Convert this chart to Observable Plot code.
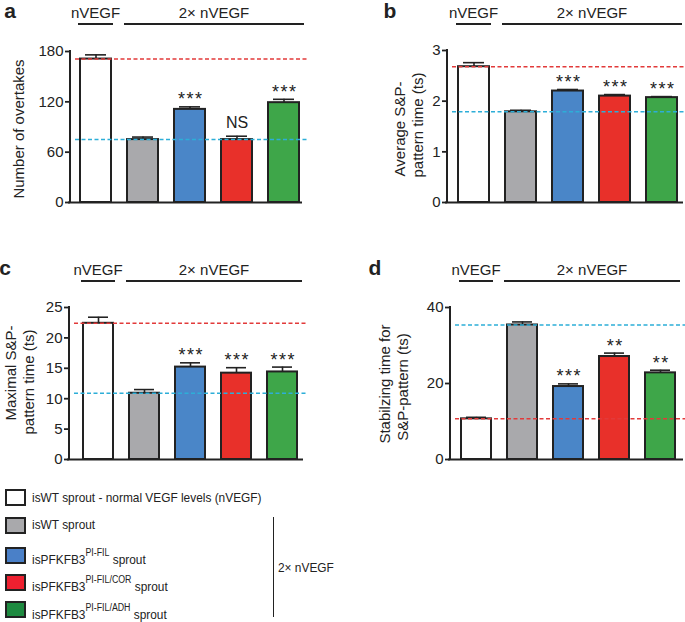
<!DOCTYPE html>
<html><head><meta charset="utf-8">
<script src="https://cdn.jsdelivr.net/npm/d3@7"></script>
<script src="https://cdn.jsdelivr.net/npm/@observablehq/plot@0.6"></script>
<style>
body{margin:0;background:#fff;font-family:"Liberation Sans",Arial,Helvetica,sans-serif;color:#222;}
#root{position:relative;width:685px;height:622px;overflow:hidden;}
.panel{position:absolute;}
.lrow{position:absolute;left:0;white-space:nowrap;}
.sw{position:absolute;left:5px;width:21px;height:17px;box-sizing:border-box;border:2.5px solid #222;}
.lt{position:absolute;left:32px;font-size:13.5px;transform:scaleX(0.88);transform-origin:0 0;line-height:1;}
.lt sup{font-size:10px;vertical-align:0;position:relative;top:-8px;}
</style></head>
<body><div id="root"></div>
<script>
// ---- data ----
const keys = ["nVEGF", "isWT", "PI-FIL", "PI-FIL/COR", "PI-FIL/ADH"];
const barColors = ["#ffffff", "#a9a9ac", "#4a86c8", "#e8302a", "#3ea649"];
const legendColors = ["#ffffff", "#a9a9ac", "#4a80c8", "#ee2030", "#1e8a40"];
const legendNames = ["isWT sprout - normal VEGF levels (nVEGF)", "isWT sprout", "isPFKFB3", "isPFKFB3", "isPFKFB3"];
const legendSup = ["", "", "PI-FIL", "PI-FIL/COR", "PI-FIL/ADH"];
const legendSuffix = ["", "", " sprout", " sprout", " sprout"];
const groupLabels = ["nVEGF", "2\u00d7 nVEGF"];

const overtakes = [171, 75, 111, 75, 119];
const overtakesErr = [5, 3, 3, 4, 4];
const overtakesSig = ["", "", "***", "NS", "***"];
const overtakesTicks = [0, 60, 120, 180];

const avgTime = [2.68, 1.79, 2.20, 2.10, 2.07];
const avgTimeErr = [0.08, 0.03, 0.03, 0.03, 0.02];
const avgTimeSig = ["", "", "***", "***", "***"];
const avgTimeTicks = [0, 1, 2, 3];

const maxTime = [22.4, 10.9, 15.2, 14.2, 14.4];
const maxTimeErr = [1.0, 0.6, 0.7, 0.9, 0.8];
const maxTimeSig = ["", "", "***", "***", "***"];
const maxTimeTicks = [0, 5, 10, 15, 20, 25];

const stabTime = [10.7, 35.4, 19.2, 27.1, 22.8];
const stabTimeErr = [0.4, 0.8, 0.7, 0.9, 0.7];
const stabTimeSig = ["", "", "***", "**", "**"];
const stabTimeTicks = [0, 20, 40];

// ---- layout ----
const FONT = '"Liberation Sans", Arial, Helvetica, sans-serif';
const root = document.getElementById("root");

const panels = [
  {letter:"a", letterX:10, left:0, top:0, width:340, ml:70, mr:38, mt:51, po:0.138, align:0.77,
   values:overtakes, errs:overtakesErr, sig:overtakesSig, ticks:overtakesTicks,
   red:overtakes[0], cyan:overtakes[1],
   labels:[{t:"Number of overtakes", x:24, c:129}]},
  {letter:"b", letterX:50, left:340, top:0, width:345, ml:107, mr:2, mt:50, po:0.18, align:0.65,
   values:avgTime, errs:avgTimeErr, sig:avgTimeSig, ticks:avgTimeTicks,
   red:avgTime[0], cyan:avgTime[1],
   labels:[{t:"Average S&P-", x:65, c:129},{t:"pattern time (ts)", x:83, c:125}]},
  {letter:"c", letterX:5, left:0, top:257, width:340, ml:69, mr:37, mt:50, po:0.16, align:0.73,
   values:maxTime, errs:maxTimeErr, sig:maxTimeSig, ticks:maxTimeTicks,
   red:maxTime[0], cyan:maxTime[1],
   labels:[{t:"Maximal S&P-", x:16, c:116},{t:"pattern time (ts)", x:34, c:125}]},
  {letter:"d", letterX:35, left:340, top:257, width:345, ml:110, mr:2, mt:50, po:0.149, align:0.57,
   values:stabTime, errs:stabTimeErr, sig:stabTimeSig, ticks:stabTimeTicks,
   red:stabTime[0], cyan:stabTime[1],
   labels:[{t:"Stabilzing time for", x:50, c:127},{t:"S&P-pattern (ts)", x:68, c:130}]}
];

panels.forEach(cfg => {
  const data = keys.map((k, i) => ({key:k, value:cfg.values[i], err:cfg.errs[i], sig:cfg.sig[i], color:barColors[i]}));
  const max = cfg.ticks[cfg.ticks.length - 1];
  const plot = Plot.plot({
    width: cfg.width, height: 215,
    marginTop: cfg.mt, marginBottom: 13, marginLeft: cfg.ml, marginRight: cfg.mr,
    style: {fontFamily: FONT, fontSize: "15px", color: "#222", background: "transparent", overflow: "visible"},
    x: {domain: keys, paddingInner: 0.34, paddingOuter: cfg.po, align: cfg.align, axis: null},
    y: {domain: [0, max], axis: null},
    color: {type: "identity"},
    marks: [
      Plot.axisY({ticks: cfg.ticks, tickSize: 5, tickPadding: 2, strokeWidth: 1.8, label: null, fontSize: 15, tickFormat: d => String(d)}),
      Plot.barY(data, {x: "key", y: "value", fill: "color", stroke: "#222", strokeWidth: 2}),
      Plot.ruleX(data, {x: "key", y1: "value", y2: d => d.value + d.err, stroke: "#222", strokeWidth: 1.6}),
      Plot.tickY(data, {x: "key", y: d => d.value + d.err, stroke: "#222", strokeWidth: 1.6, insetLeft: 5, insetRight: 5}),
      Plot.ruleY([cfg.red], {stroke: "#e23a3a", strokeWidth: 1.5, strokeDasharray: "4,2.5", insetLeft: 5, insetRight: -5}),
      Plot.ruleY([cfg.cyan], {stroke: "#2daed8", strokeWidth: 1.5, strokeDasharray: "4,2.5", insetLeft: 5, insetRight: -5}),
      Plot.ruleY([0], {stroke: "#222", strokeWidth: 2, insetLeft: -2}),
      Plot.text(data.filter(d => d.sig.startsWith("*")), {x: "key", y: d => d.value + d.err, text: d => d.sig.split("").join("\u200A"), lineAnchor: "bottom", dy: -1.5, fontSize: 18, fill: "#222"}),
      Plot.text(data.filter(d => d.sig === "NS"), {x: "key", y: d => d.value + d.err, text: "sig", lineAnchor: "bottom", dy: -8, fontSize: 16, fill: "#222"})
    ]
  });
  const svg = d3.select(plot);
  const xs = plot.scale("x"), ys = plot.scale("y");
  const bw = xs.bandwidth;
  // y axis line
  svg.append("line").attr("x1", cfg.ml).attr("x2", cfg.ml)
    .attr("y1", ys.apply(0) + 1).attr("y2", ys.apply(max) - 0.9)
    .attr("stroke", "#222").attr("stroke-width", 2);
  // group headers
  const g = svg.append("g").attr("font-family", FONT).attr("font-size", 15).attr("fill", "#222");
  const h1a = xs.apply(keys[0]) - 2, h1b = xs.apply(keys[0]) + bw + 2;
  const h2a = xs.apply(keys[1]) - 3, h2b = xs.apply(keys[4]) + bw + 5;
  g.append("line").attr("x1", h1a).attr("x2", h1b).attr("y1", 24).attr("y2", 24).attr("stroke", "#222").attr("stroke-width", 1.8);
  g.append("line").attr("x1", h2a).attr("x2", h2b).attr("y1", 24).attr("y2", 24).attr("stroke", "#222").attr("stroke-width", 1.8);
  g.append("text").attr("x", (h1a + h1b) / 2).attr("y", 17.5).attr("text-anchor", "middle").text(groupLabels[0]);
  g.append("text").attr("x", (h2a + h2b) / 2).attr("y", 17.5).attr("text-anchor", "middle").text(groupLabels[1]);
  // panel letter
  g.append("text").attr("x", cfg.letterX).attr("y", 18).attr("font-size", 21).attr("font-weight", "bold").text(cfg.letter);
  // y labels
  cfg.labels.forEach(l => {
    g.append("text").attr("transform", `translate(${l.x},${l.c}) rotate(-90)`)
      .attr("text-anchor", "middle").text(l.t);
  });
  const div = document.createElement("div");
  div.className = "panel";
  div.style.left = cfg.left + "px";
  div.style.top = cfg.top + "px";
  div.appendChild(plot);
  root.appendChild(div);
});

// ---- legend ----
const rowCenters = [497.5, 525, 555, 582, 609.5];
legendNames.forEach((name, i) => {
  const row = document.createElement("div");
  row.className = "lrow";
  row.style.top = rowCenters[i] + "px";
  const sw = document.createElement("div");
  sw.className = "sw";
  sw.style.top = "-8.5px";
  sw.style.background = legendColors[i];
  row.appendChild(sw);
  const t = document.createElement("div");
  t.className = "lt";
  t.style.top = (legendSup[i] ? "-2px" : "-7px");
  t.appendChild(document.createTextNode(name));
  if (legendSup[i]) {
    const s = document.createElement("sup");
    s.textContent = legendSup[i];
    t.appendChild(s);
  }
  t.appendChild(document.createTextNode(legendSuffix[i]));
  row.appendChild(t);
  root.appendChild(row);
});
const br = document.createElement("div");
br.style.cssText = "position:absolute;left:272.5px;top:517px;width:1.6px;height:100px;background:#222;";
root.appendChild(br);
const bt = document.createElement("div");
bt.style.cssText = "position:absolute;left:278px;top:561px;font-size:13.5px;line-height:1;transform:scaleX(0.88);transform-origin:0 0;white-space:nowrap;";
bt.textContent = groupLabels[1];
root.appendChild(bt);
</script>
</body></html>
